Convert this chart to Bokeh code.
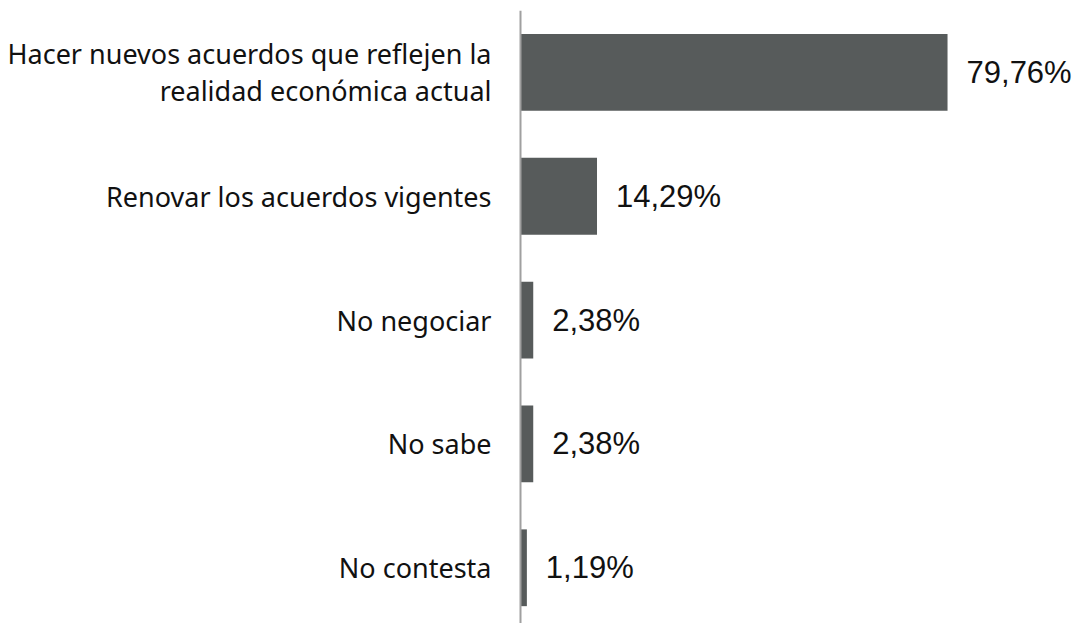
from bokeh.plotting import figure
from bokeh.models import Range1d, ColumnDataSource, Span
from bokeh.core.properties import value
from bokeh.embed import file_html
from bokeh.resources import INLINE

categories = ["Hacer nuevos acuerdos que reflejen la\nrealidad económica actual",
              "Renovar los acuerdos vigentes",
              "No negociar",
              "No sabe",
              "No contesta"]
values = [79.76, 14.29, 2.38, 2.38, 1.19]
value_labels = [f"{v:.2f}".replace(".", ",") + "%" for v in values]
positions = list(range(len(categories)))

src = ColumnDataSource(dict(y=positions, v=values, lab=value_labels,
                            cat=categories, zero=[0] * len(values)))

PX_PER_UNIT = 5.354
p = figure(width=1080, height=623, output_backend="svg", toolbar_location=None,
           x_range=Range1d(-520 / PX_PER_UNIT, 560 / PX_PER_UNIT),
           y_range=Range1d(4.45, -0.5),
           min_border_top=10, min_border_bottom=0, min_border_right=0, min_border_left=0)
p.outline_line_color = None
p.grid.visible = False
p.xaxis.visible = False
p.yaxis.visible = False

p.hbar(y="y", right="v", left=0, height=0.62, source=src, color="#575b5b", line_color=None)

# axis line
p.add_layout(Span(location=0, dimension="height", line_color="#a0a0a0", line_width=2))

# value labels
p.text(x="v", y="y", text="lab", source=src, x_offset=19, text_baseline="middle",
       text_align="left", text_font=value("Liberation Sans"), text_font_size="31px",
       text_color="#111111")

# category labels
p.text(x="zero", y="y", text="cat", source=src, x_offset=-29, text_baseline="middle",
       text_align="right", text_font=value("Noto Sans"), text_font_size="27px",
       text_color="#111111", text_line_height=1.0)

open("out.html", "w").write(file_html(p, INLINE))
